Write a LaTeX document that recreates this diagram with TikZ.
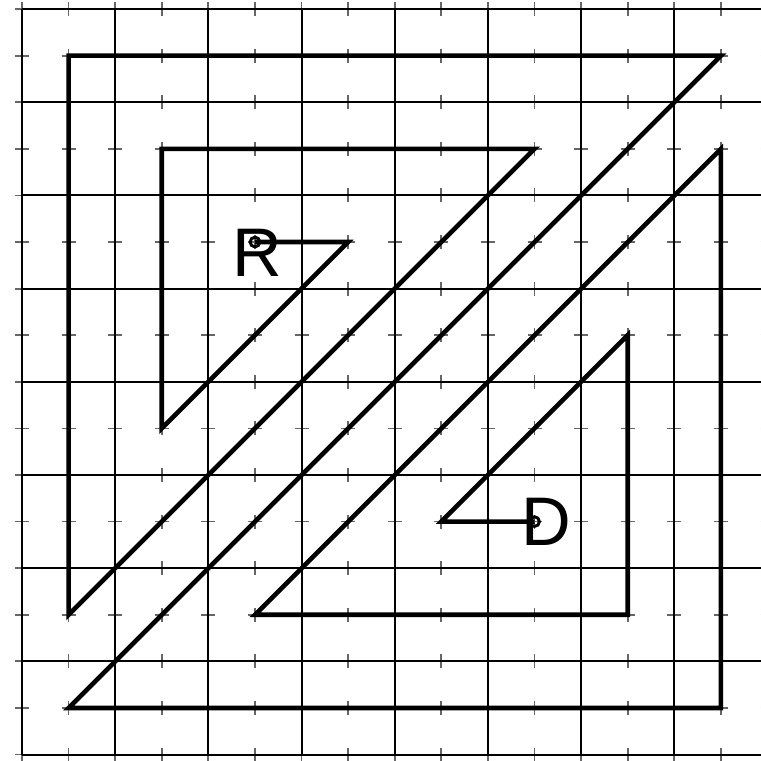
\documentclass[tikz,border=0pt]{standalone}
\usepackage{fontspec}
\setmainfont{Liberation Sans}
\begin{document}
\begin{tikzpicture}[x=1cm,y=1cm,
  gridline/.style={line width=0.65pt,black},
  tickmark/.style={line width=0.55pt,black!60},
  route/.style={line width=1.4pt,black,line join=miter},
  endring/.style={line width=0.9pt,black},
  lbl/.style={inner sep=0pt,font=\fontsize{21}{21}\selectfont}]
\clip (-0.236,-0.064) rectangle (7.93,8.097);
\fill[white] (-0.236,-0.064) rectangle (7.93,8.097);
% half-unit ticks
\foreach \i in {0,...,16}{
  \foreach \j in {0,...,16}{
    \draw[tickmark] ({\i/2-0.075},{\j/2}) -- ({\i/2+0.075},{\j/2});
    \draw[tickmark] ({\i/2},{\j/2-0.075}) -- ({\i/2},{\j/2+0.075});
  }
}
% grid
\foreach \k in {0,...,8}{
  \draw[gridline] (\k,0) -- (\k,8);
  \draw[gridline] (0,\k) -- (8,\k);
}
% route
\coordinate (R) at (2.5,5.5);
\coordinate (D) at (5.5,2.5);
\draw[route] (R) -- (3.5,5.5) -- (1.5,3.5) -- (1.5,6.5) -- (5.5,6.5) -- (0.5,1.5)
  -- (0.5,7.5) -- (7.5,7.5) -- (0.5,0.5) -- (7.5,0.5) -- (7.5,6.5) -- (2.5,1.5)
  -- (6.5,1.5) -- (6.5,4.5) -- (4.5,2.5) -- (D);
\node[lbl] (rl) at (2.52,5.38) {R};
\node[lbl] (dl) at (5.63,2.50) {D};
\draw[endring] (R) circle (0.052);
\draw[endring] (D) circle (0.052);
\end{tikzpicture}
\end{document}
